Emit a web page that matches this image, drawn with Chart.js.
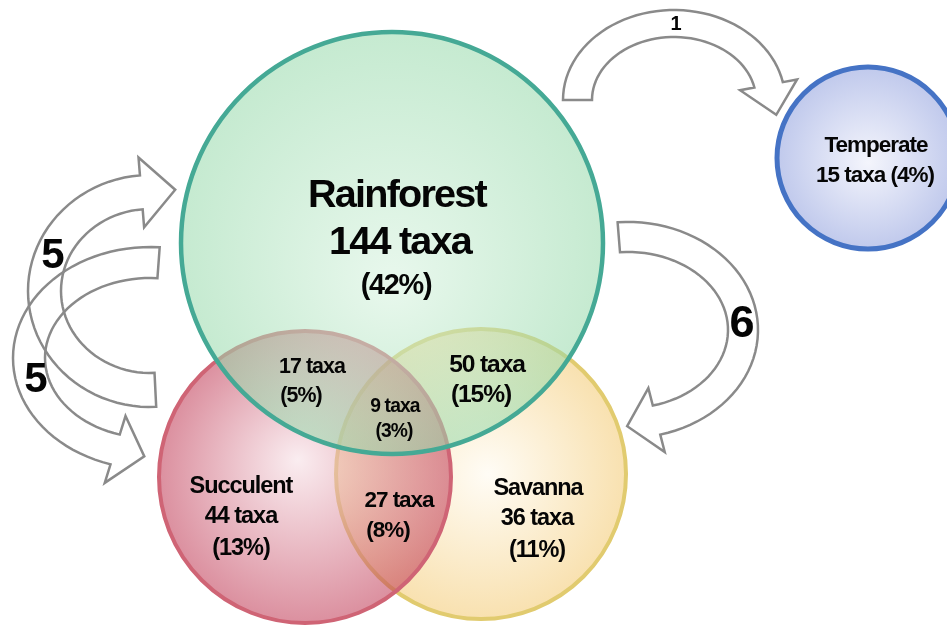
<!DOCTYPE html>
<html>
<head>
<meta charset="utf-8">
<title>Biome taxa</title>
<script src="https://cdn.jsdelivr.net/npm/chart.js@4.4.1/dist/chart.umd.min.js"></script>
<style>
  html, body { margin: 0; padding: 0; background: #fff; }
  #wrap { width: 947px; height: 626px; }
</style>
</head>
<body>
<div id="wrap"><canvas id="venn" width="947" height="626"></canvas></div>
<script>
// biome totals
const biomes = ["Rainforest", "Succulent", "Savanna", "Temperate"];
const biomeTaxa = [144, 44, 36, 15];
const biomePct = [42, 13, 11, 4];

// shared taxa between biomes
const overlapSets = ["Rainforest+Succulent", "Rainforest+Savanna", "All three", "Succulent+Savanna"];
const overlapTaxa = [17, 50, 9, 27];
const overlapPct = [5, 15, 3, 8];

// biome shifts (from -> to) and how many times they happened
const shiftFrom = ["Rainforest", "Rainforest", "Rainforest", "Succulent"];
const shiftTo = ["Temperate", "Savanna", "Succulent", "Rainforest"];
const shiftCount = [1, 6, 5, 5];

// ---- layout (plane is 947 x 626, y down) ----
const circleLayout = [
  { x: 392, y: 243, r: 211 },
  { x: 305, y: 477, r: 146 },
  { x: 481, y: 474, r: 145 },
  { x: 868, y: 158, r: 91 }
];
const drawOrder = [2, 3, 4, 1];
const strokes = ["#45a995", "#cf6475", "#e1cb6f", "#4573c5"];
const strokeW = [4.5, 4, 4, 5];
// [centre colour, edge colour, highlight dx, highlight dy]
const fills = [
  ["rgba(214,242,222,0.55)", "rgba(150,217,170,0.55)", 0, 0.2],
  ["rgba(246,222,228,0.55)", "rgba(190,52,80,0.55)", -0.05, -0.12],
  ["rgba(255,250,238,0.55)", "rgba(243,200,110,0.55)", 0.05, 0],
  ["rgba(244,245,252,1)", "rgba(192,201,236,1)", 0, 0.05]
];

// label anchors: [x, baseline, font size] per line
const biomeLabelPos = [
  [[397, 207, 37], [400, 254, 37], [396, 294, 27]],
  [[241, 493, 22], [241, 523, 22], [241, 555, 22]],
  [[538, 495, 22], [537, 525, 22], [537, 557, 22]],
  [[876, 152, 21], [875, 182, 21]]
];
const overlapLabelPos = [
  [[312, 373, 20], [301, 402, 20]],
  [[487, 372, 23], [481, 402, 23]],
  [[395, 412, 18], [394, 437, 18]],
  [[399, 507, 21], [388, 537, 21]]
];

// block arrows as elliptical arcs: centre, outer/inner radii, start/end angle
const arrowLayout = [
  { cx: 674, cy: 100, rxo: 111, ryo: 90, rxi: 82, ryi: 63, t0: Math.PI, t1: 2 * Math.PI - 0.2, head: 31, half: 29, lab: [676, 30, 20] },
  { cx: 628, cy: 330, rxo: 130, ryo: 108, rxi: 100, ryi: 78, t0: -Math.PI / 2 - 0.08, t1: 1.32, head: 30, half: 33, lab: [742, 337, 45] },
  { cx: 150, cy: 358, rxo: 137, ryo: 111, rxi: 105, ryi: 80, t0: -1.5, t1: -4.42, head: 30, half: 35, lab: [53, 268, 42] },
  { cx: 150, cy: 291, rxo: 122, ryo: 116, rxi: 89, ryi: 82, t0: 1.52, t1: 4.63, head: 34, half: 35, lab: [36, 392, 42] }
];

const FONT = '"Liberation Sans", Arial, sans-serif';

function fillFor(c, i) {
  const chart = c.chart;
  const raw = c.raw;
  if (!chart.chartArea || !raw) return fills[i][1];
  const x = chart.scales.x.getPixelForValue(raw.x);
  const y = chart.scales.y.getPixelForValue(raw.y);
  const r = raw.r;
  const g = chart.ctx.createRadialGradient(x + fills[i][2] * r, y + fills[i][3] * r, 0, x, y, r);
  g.addColorStop(0, fills[i][0]);
  g.addColorStop(1, fills[i][1]);
  return g;
}

function drawArrow(ctx, xs, ys, a) {
  const P = (vx, vy) => [xs.getPixelForValue(vx), ys.getPixelForValue(vy)];
  const pt = (rx, ry, t) => P(a.cx + rx * Math.cos(t), a.cy + ry * Math.sin(t));
  const n = 48;
  ctx.beginPath();
  for (let k = 0; k <= n; k++) {
    const t = a.t0 + (a.t1 - a.t0) * k / n;
    const p = pt(a.rxo, a.ryo, t);
    k === 0 ? ctx.moveTo(p[0], p[1]) : ctx.lineTo(p[0], p[1]);
  }
  const oe = pt(a.rxo, a.ryo, a.t1);
  const ie = pt(a.rxi, a.ryi, a.t1);
  const mid = [(oe[0] + ie[0]) / 2, (oe[1] + ie[1]) / 2];
  let nx = oe[0] - ie[0], ny = oe[1] - ie[1];
  const nl = Math.hypot(nx, ny);
  nx /= nl; ny /= nl;
  const rx = (a.rxo + a.rxi) / 2, ry = (a.ryo + a.ryi) / 2;
  const dir = Math.sign(a.t1 - a.t0);
  let tx = -rx * Math.sin(a.t1) * dir, ty = ry * Math.cos(a.t1) * dir;
  const tl = Math.hypot(tx, ty);
  tx /= tl; ty /= tl;
  ctx.lineTo(mid[0] + nx * a.half, mid[1] + ny * a.half);
  ctx.lineTo(mid[0] + tx * a.head, mid[1] + ty * a.head);
  ctx.lineTo(mid[0] - nx * a.half, mid[1] - ny * a.half);
  for (let k = n; k >= 0; k--) {
    const t = a.t0 + (a.t1 - a.t0) * k / n;
    const p = pt(a.rxi, a.ryi, t);
    ctx.lineTo(p[0], p[1]);
  }
  ctx.closePath();
  ctx.lineWidth = 2.5;
  ctx.lineJoin = "miter";
  ctx.strokeStyle = "#8a8a8a";
  ctx.stroke();
}

// slightly larger type, squeezed together, like the tight labels of the diagram
function setFont(ctx, size) {
  const s = size * 1.07;
  ctx.font = "bold " + s.toFixed(1) + "px " + FONT;
  ctx.letterSpacing = (-0.045 * s).toFixed(2) + "px";
}

function drawLines(ctx, xs, ys, lines, pos) {
  lines.forEach((txt, j) => {
    const [x, y, size] = pos[j];
    setFont(ctx, size);
    ctx.fillText(txt, xs.getPixelForValue(x), ys.getPixelForValue(y));
  });
}

const overlayPlugin = {
  id: "overlay",
  afterDatasetsDraw(chart) {
    const ctx = chart.ctx;
    const xs = chart.scales.x, ys = chart.scales.y;
    ctx.save();
    arrowLayout.forEach(a => drawArrow(ctx, xs, ys, a));

    ctx.fillStyle = "#050505";
    ctx.textAlign = "center";
    ctx.textBaseline = "alphabetic";
    biomes.forEach((name, i) => {
      const lines = i === 3
        ? [name, biomeTaxa[i] + " taxa (" + biomePct[i] + "%)"]
        : [name, biomeTaxa[i] + " taxa", "(" + biomePct[i] + "%)"];
      drawLines(ctx, xs, ys, lines, biomeLabelPos[i]);
    });
    overlapSets.forEach((s, i) => {
      drawLines(ctx, xs, ys, [overlapTaxa[i] + " taxa", "(" + overlapPct[i] + "%)"], overlapLabelPos[i]);
    });
    shiftCount.forEach((cnt, i) => {
      const [x, y, size] = arrowLayout[i].lab;
      ctx.font = "bold " + size + "px " + FONT;
      ctx.letterSpacing = "0px";
      ctx.fillText(String(cnt), xs.getPixelForValue(x), ys.getPixelForValue(y));
    });
    ctx.restore();
  }
};

new Chart(document.getElementById("venn"), {
  type: "bubble",
  data: {
    datasets: biomes.map((name, i) => ({
      label: name,
      data: [{ x: circleLayout[i].x, y: circleLayout[i].y, r: circleLayout[i].r }],
      order: drawOrder[i],
      clip: false,
      backgroundColor: c => fillFor(c, i),
      borderColor: strokes[i],
      borderWidth: strokeW[i]
    }))
  },
  options: {
    responsive: false,
    animation: false,
    events: [],
    layout: { padding: 0, autoPadding: false },
    scales: {
      x: { type: "linear", min: 0, max: 947, display: false },
      y: { type: "linear", min: 0, max: 626, reverse: true, display: false }
    },
    plugins: {
      legend: { display: false },
      tooltip: { enabled: false }
    }
  },
  plugins: [overlayPlugin]
});
</script>
</body>
</html>
